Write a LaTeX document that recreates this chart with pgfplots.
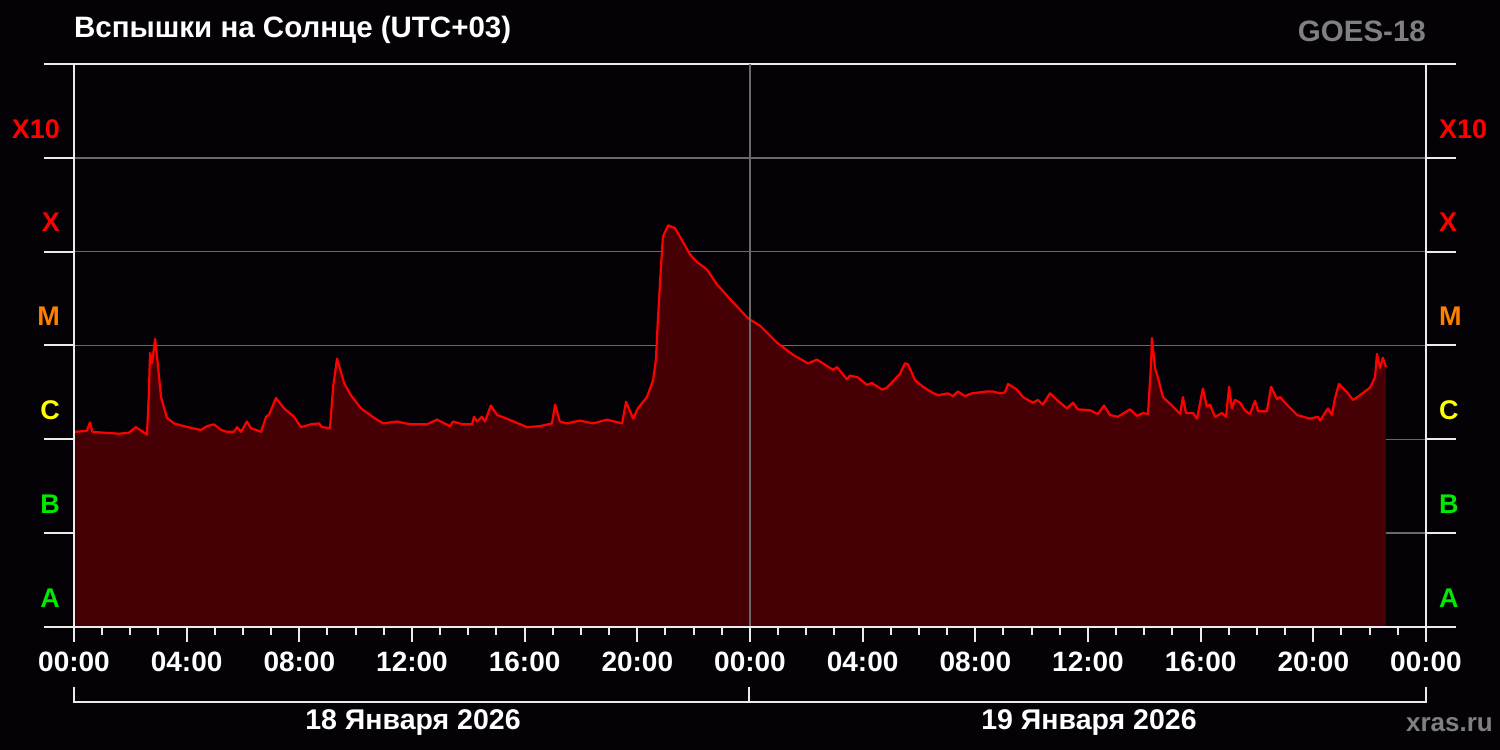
\documentclass[border=0pt]{standalone}
\usepackage{fontspec}
\setmainfont{Liberation Sans}
\usepackage{pgfplots}
\pgfplotsset{compat=1.18}
\usepackage{pgfplotstable}
\definecolor{bg}{RGB}{4,2,7}
\definecolor{fillred}{RGB}{70,0,5}
\definecolor{linered}{RGB}{255,0,0}
\definecolor{gridgrey}{RGB}{105,105,105}
\definecolor{axwhite}{RGB}{235,235,235}
\definecolor{lblgrey}{RGB}{128,128,128}
\definecolor{cX}{RGB}{255,0,0}
\definecolor{cM}{RGB}{255,128,0}
\definecolor{cC}{RGB}{255,255,0}
\definecolor{cB}{RGB}{0,235,0}

% t = hours since 18 Jan 00:00 (UTC+03); v = decades above 1e-8 W/m^2 (0=A,1=B,2=C,3=M,4=X,5=X10)
\pgfplotstableread{
t v
0.00 2.08
0.45 2.09
0.57 2.18
0.65 2.08
1.10 2.07
1.60 2.06
1.95 2.07
2.19 2.13
2.45 2.08
2.59 2.05
2.66 2.50
2.70 2.92
2.77 2.81
2.88 3.07
2.95 2.88
3.09 2.45
3.30 2.23
3.55 2.17
3.91 2.14
4.19 2.12
4.51 2.10
4.72 2.14
4.97 2.16
5.22 2.10
5.43 2.08
5.68 2.08
5.79 2.13
5.93 2.08
6.14 2.19
6.28 2.12
6.64 2.08
6.82 2.24
6.92 2.26
7.17 2.44
7.46 2.33
7.81 2.24
8.06 2.13
8.41 2.16
8.70 2.17
8.80 2.13
9.09 2.12
9.20 2.56
9.34 2.86
9.59 2.60
9.83 2.47
10.19 2.33
10.65 2.23
10.97 2.17
11.47 2.19
11.93 2.16
12.53 2.16
12.89 2.21
13.35 2.14
13.46 2.19
13.81 2.16
14.13 2.16
14.20 2.24
14.31 2.19
14.48 2.24
14.59 2.19
14.80 2.36
15.02 2.26
15.37 2.22
16.08 2.13
16.54 2.14
16.97 2.17
17.08 2.37
17.25 2.19
17.50 2.17
17.96 2.20
18.43 2.17
18.92 2.21
19.46 2.17
19.60 2.40
19.85 2.22
20.02 2.33
20.34 2.45
20.56 2.63
20.66 2.85
20.73 3.27
20.84 3.84
20.91 4.16
21.09 4.28
21.34 4.25
21.59 4.12
21.87 3.97
22.12 3.89
22.47 3.81
22.83 3.65
23.40 3.46
23.93 3.29
24.36 3.21
24.96 3.03
25.53 2.90
26.06 2.81
26.38 2.85
26.95 2.74
27.09 2.77
27.44 2.64
27.55 2.68
27.83 2.66
28.15 2.58
28.33 2.60
28.69 2.53
28.86 2.55
29.08 2.62
29.33 2.70
29.50 2.81
29.61 2.80
29.86 2.63
30.14 2.56
30.46 2.50
30.67 2.47
31.03 2.49
31.21 2.46
31.38 2.51
31.63 2.46
31.88 2.49
32.41 2.51
32.63 2.51
32.88 2.49
33.05 2.50
33.16 2.59
33.48 2.53
33.69 2.45
34.05 2.39
34.22 2.42
34.40 2.37
34.65 2.49
34.90 2.42
35.25 2.33
35.47 2.39
35.64 2.32
36.07 2.31
36.35 2.27
36.57 2.36
36.78 2.26
37.06 2.24
37.49 2.32
37.74 2.25
37.95 2.28
38.13 2.27
38.24 2.81
38.27 3.08
38.38 2.76
38.48 2.66
38.66 2.45
38.98 2.36
39.27 2.27
39.37 2.45
39.48 2.28
39.73 2.28
39.87 2.22
40.08 2.54
40.22 2.35
40.33 2.37
40.51 2.24
40.76 2.28
40.90 2.24
41.01 2.56
41.11 2.33
41.22 2.42
41.40 2.39
41.57 2.31
41.75 2.27
41.93 2.41
42.04 2.30
42.35 2.30
42.50 2.56
42.71 2.43
42.82 2.45
43.06 2.37
43.42 2.26
43.88 2.22
44.16 2.24
44.24 2.20
44.52 2.33
44.66 2.26
44.77 2.44
44.91 2.59
45.20 2.50
45.41 2.42
45.66 2.47
46.01 2.55
46.19 2.66
46.26 2.91
46.37 2.76
46.47 2.87
46.58 2.77
}\flux

\begin{document}
\begin{tikzpicture}[x=1pt,y=1pt]
\fill[bg] (0,0) rectangle (1500,750);
\useasboundingbox (0,0) rectangle (1500,750);
\begin{axis}[
  at={(74pt,123pt)}, anchor=south west,
  scale only axis, width=1352pt, height=563pt,
  xmin=0, xmax=48, ymin=0, ymax=6,
  axis line style={axwhite, line width=2pt},
  xtick={0,4,...,48},
  xticklabels={00:00,04:00,08:00,12:00,16:00,20:00,00:00,04:00,08:00,12:00,16:00,20:00,00:00},
  minor xtick={1,...,47},
  xtick pos=bottom, tick align=outside,
  major tick length=15pt, minor tick length=8pt,
  xtick style={axwhite, line width=2pt},
  ytick={1,2,3,4,5}, yticklabels={}, ytick style={draw=none},
  ymajorgrids, major grid style={gridgrey, line width=1.5pt},
  xticklabel style={font=\fontsize{28}{30}\selectfont\bfseries, text=white, anchor=north, inner sep=0pt, yshift=-10pt},
  clip=false,
]
\addplot[draw=none, fill=fillred] table[x=t,y=v]{\flux} \closedcycle;
\addplot[linered, line width=2.2pt, line join=round] table[x=t,y=v]{\flux};
\draw[gridgrey, line width=1.5pt] (axis cs:24,0) -- (axis cs:24,6);
\draw[axwhite, line width=2pt] (axis cs:0,6) -- (axis cs:0,0) -- (axis cs:48,0);
\pgfplotsinvokeforeach{0,...,6}{
  \draw[axwhite, line width=2pt] (axis cs:0,#1) -- ++(-30pt,0);
  \draw[axwhite, line width=2pt] (axis cs:48,#1) -- ++(30pt,0);
}
\node[anchor=east, inner sep=0pt, xshift=-14pt, text=cB, font=\fontsize{27}{29}\selectfont\bfseries] at (axis cs:0,0.31) {A};
\node[anchor=east, inner sep=0pt, xshift=-14pt, text=cB, font=\fontsize{27}{29}\selectfont\bfseries] at (axis cs:0,1.31) {B};
\node[anchor=east, inner sep=0pt, xshift=-14pt, text=cC, font=\fontsize{27}{29}\selectfont\bfseries] at (axis cs:0,2.31) {C};
\node[anchor=east, inner sep=0pt, xshift=-14pt, text=cM, font=\fontsize{27}{29}\selectfont\bfseries] at (axis cs:0,3.31) {M};
\node[anchor=east, inner sep=0pt, xshift=-14pt, text=cX, font=\fontsize{27}{29}\selectfont\bfseries] at (axis cs:0,4.31) {X};
\node[anchor=east, inner sep=0pt, xshift=-14pt, text=cX, font=\fontsize{27}{29}\selectfont\bfseries] at (axis cs:0,5.31) {X10};
\node[anchor=west, inner sep=0pt, xshift=13pt, text=cB, font=\fontsize{27}{29}\selectfont\bfseries] at (axis cs:48,0.31) {A};
\node[anchor=west, inner sep=0pt, xshift=13pt, text=cB, font=\fontsize{27}{29}\selectfont\bfseries] at (axis cs:48,1.31) {B};
\node[anchor=west, inner sep=0pt, xshift=13pt, text=cC, font=\fontsize{27}{29}\selectfont\bfseries] at (axis cs:48,2.31) {C};
\node[anchor=west, inner sep=0pt, xshift=13pt, text=cM, font=\fontsize{27}{29}\selectfont\bfseries] at (axis cs:48,3.31) {M};
\node[anchor=west, inner sep=0pt, xshift=13pt, text=cX, font=\fontsize{27}{29}\selectfont\bfseries] at (axis cs:48,4.31) {X};
\node[anchor=west, inner sep=0pt, xshift=13pt, text=cX, font=\fontsize{27}{29}\selectfont\bfseries] at (axis cs:48,5.31) {X10};
\end{axis}
\node[anchor=base west, inner sep=0pt, text=white, font=\fontsize{29.5}{32}\selectfont\bfseries] at (74,712) {Вспышки на Солнце (UTC+03)};
\node[anchor=base east, inner sep=0pt, text=lblgrey, font=\fontsize{29.5}{32}\selectfont\bfseries] at (1426,708) {GOES-18};
\draw[axwhite, line width=2pt] (74,63) -- (74,48) -- (1426,48) -- (1426,63);
\draw[axwhite, line width=2pt] (749,48) -- (749,63);
\node[anchor=base, inner sep=0pt, text=white, font=\fontsize{28.5}{30}\selectfont\bfseries] at (413,20.5) {18 Января 2026};
\node[anchor=base, inner sep=0pt, text=white, font=\fontsize{28.5}{30}\selectfont\bfseries] at (1089,20.5) {19 Января 2026};
\node[anchor=base east, inner sep=0pt, text=lblgrey, font=\fontsize{26}{28}\selectfont\bfseries] at (1493,18) {xras.ru};
\end{tikzpicture}
\end{document}
